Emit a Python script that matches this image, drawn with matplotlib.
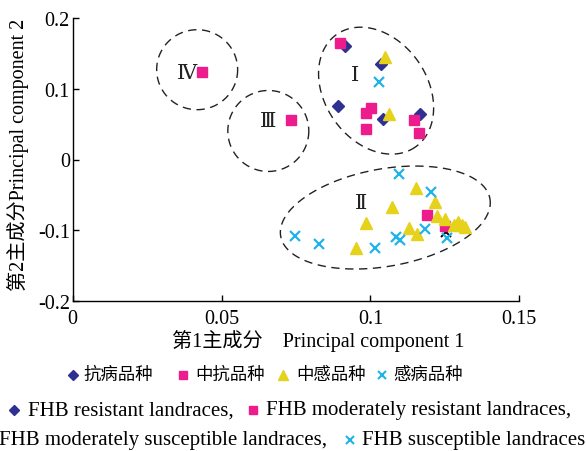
import numpy as np
import matplotlib
matplotlib.use('Agg')
import matplotlib.pyplot as plt
from matplotlib.lines import Line2D

plt.rcParams['font.family'] = ['Liberation Serif', 'Noto Sans CJK SC', 'DejaVu Sans']
plt.rcParams['axes.unicode_minus'] = False

# ---------------- data ----------------
res_x = [0.0914, 0.1034, 0.0891, 0.1042, 0.1165]
res_y = [0.1603, 0.1353, 0.0754, 0.0574, 0.0644]

modres_x = [0.0899, 0.1003, 0.0984, 0.0984, 0.1145, 0.1163, 0.0433, 0.0732, 0.1189, 0.1251]
modres_y = [0.1646, 0.0729, 0.0654, 0.0432, 0.0564, 0.0375, 0.1235, 0.0564, -0.0786, -0.0935]

modsus_x = [0.1048, 0.1061, 0.0951, 0.0984, 0.1074, 0.1152, 0.1216, 0.1225, 0.1252,
            0.1130, 0.1157, 0.1280, 0.1293, 0.1306, 0.1316]
modsus_y = [0.1448, 0.0644, -0.1258, -0.0904, -0.0677, -0.0408, -0.0606, -0.0805, -0.0843,
            -0.0977, -0.1062, -0.0928, -0.0892, -0.0928, -0.0956]

sus_x = [0.1029, 0.0746, 0.0828, 0.1014, 0.1096, 0.1205, 0.1184, 0.1085, 0.1100, 0.1258]
sus_y = [0.1093, -0.1079, -0.1197, -0.1258, -0.0205, -0.0456, -0.0984, -0.1091, -0.1147, -0.1112]

other_x = [0.1254]
other_y = [-0.1027]

xticks = [0, 0.05, 0.1, 0.15]
xtick_labels = ['0', '0.05', '0.1', '0.15']
yticks = [-0.2, -0.1, 0, 0.1, 0.2]
ytick_labels = ['-0.2', '-0.1', '0', '0.1', '0.2']

groups = ['Ⅰ', 'Ⅱ', 'Ⅲ', 'Ⅳ']
group_label_x = [0.0947, 0.0967, 0.0656, 0.0383]
group_label_y = [0.1211, -0.0602, 0.0556, 0.1239]

legend_cn = ['抗病品种', '中抗品种', '中感品种', '感病品种']
legend_en = ['FHB resistant landraces,', 'FHB moderately resistant landraces,',
             'FHB moderately susceptible landraces,', 'FHB susceptible landraces']

C_RES = '#2e3192'
C_MR = '#ec1c8c'
C_MS = '#e6d21a'
C_SUS = '#1fb3ea'

W, H = 586, 452
fig = plt.figure(figsize=(W / 100, H / 100), dpi=100)
ax = fig.add_axes([72.7 / W, 1 - 301.7 / H, 446.6 / W, 282.4 / H])
ax.set_xlim(0, 0.15)
ax.set_ylim(-0.2, 0.2)
for s in ['top', 'right']:
    ax.spines[s].set_visible(False)
for s in ['left', 'bottom']:
    ax.spines[s].set_linewidth(1.0)
ax.set_xticks(xticks)
ax.set_xticklabels(xtick_labels)
ax.set_yticks(yticks)
ax.set_yticklabels(ytick_labels)
ax.tick_params(direction='in', length=4, width=1, labelsize=14.5)
ax.tick_params(axis='y', pad=2)
ax.tick_params(axis='x', pad=6)

ax.plot(res_x, res_y, ls='none', marker='D', ms=6, color=C_RES, zorder=3)
ax.plot(modres_x, modres_y, ls='none', marker='s', ms=6.5, color=C_MR, zorder=3)
ax.plot(modsus_x, modsus_y, ls='none', marker='^', ms=8, color=C_MS, zorder=3)
ax.plot(sus_x, sus_y, ls='none', marker='x', ms=7, mew=1.6, color=C_SUS, zorder=3)
ax.plot(other_x, other_y, ls='none', marker='x', ms=7, mew=1.4, color='black', zorder=2)

def ellipse(cx, cy, a_px, b_px, ang_deg):
    t = np.linspace(0, 2 * np.pi, 400)
    th = np.deg2rad(ang_deg)
    dx = a_px * np.cos(t) * np.cos(th) - b_px * np.sin(t) * np.sin(th)
    dy = a_px * np.cos(t) * np.sin(th) + b_px * np.sin(t) * np.cos(th)
    c = ax.transData.transform((cx, cy))
    pts = np.column_stack([c[0] + dx, c[1] - dy])
    d = ax.transData.inverted().transform(pts)
    ax.plot(d[:, 0], d[:, 1], ls=(0, (6, 4)), color='#222222', lw=1.0, zorder=1,
            clip_on=False)

ellipse(0.1019, 0.0975, 68.7, 51.2, 55)
ellipse(0.1050, -0.0822, 106.3, 48.7, -10.2)
ellipse(0.0657, 0.0404, 40.5, 40.5, 0)
ellipse(0.0418, 0.1272, 40.5, 40.0, 0)

for g, gx, gy in zip(groups, group_label_x, group_label_y):
    ax.text(gx, gy, g, ha='center', va='center', fontsize=15,
            family=['DejaVu Serif', 'Liberation Serif', 'Noto Sans CJK SC'], color='#222222')

fig.text(318 / W, 1 - 341 / H, '第1主成分　Principal component 1', ha='center', va='center', fontsize=14.5)
fig.text(18 / W, 1 - 155 / H, '第2主成分Principal component 2', ha='center', va='center',
         fontsize=14.5, rotation=90)

def mk(x, y, marker, color, ms, mew=1.0):
    fig.add_artist(Line2D([x / W], [1 - y / H], ls='none', marker=marker, ms=ms, mew=mew,
                          color=color, transform=fig.transFigure))

def tx(x, y, s, size):
    fig.text(x / W, 1 - y / H, s, ha='left', va='center', fontsize=size)

# row 1
mk(73, 376, 'D', C_RES, 5)
tx(83, 376, legend_cn[0], 12.5)
mk(183, 376, 's', C_MR, 5.5)
tx(195, 376, legend_cn[1], 12.5)
mk(283, 376, '^', C_MS, 6.5)
tx(296, 376, legend_cn[2], 12.5)
mk(382, 376, 'x', C_SUS, 6, 1.5)
tx(393, 376, legend_cn[3], 12.5)
# row 2
mk(14, 411, 'D', C_RES, 5)
tx(28, 411, legend_en[0], 15)
mk(253, 411, 's', C_MR, 5.5)
tx(266, 411, legend_en[1], 15)
# row 3
tx(-1, 441, legend_en[2], 15)
mk(350, 441, 'x', C_SUS, 6, 1.5)
tx(362, 441, legend_en[3], 15)

fig.savefig('out.png', dpi=100)
